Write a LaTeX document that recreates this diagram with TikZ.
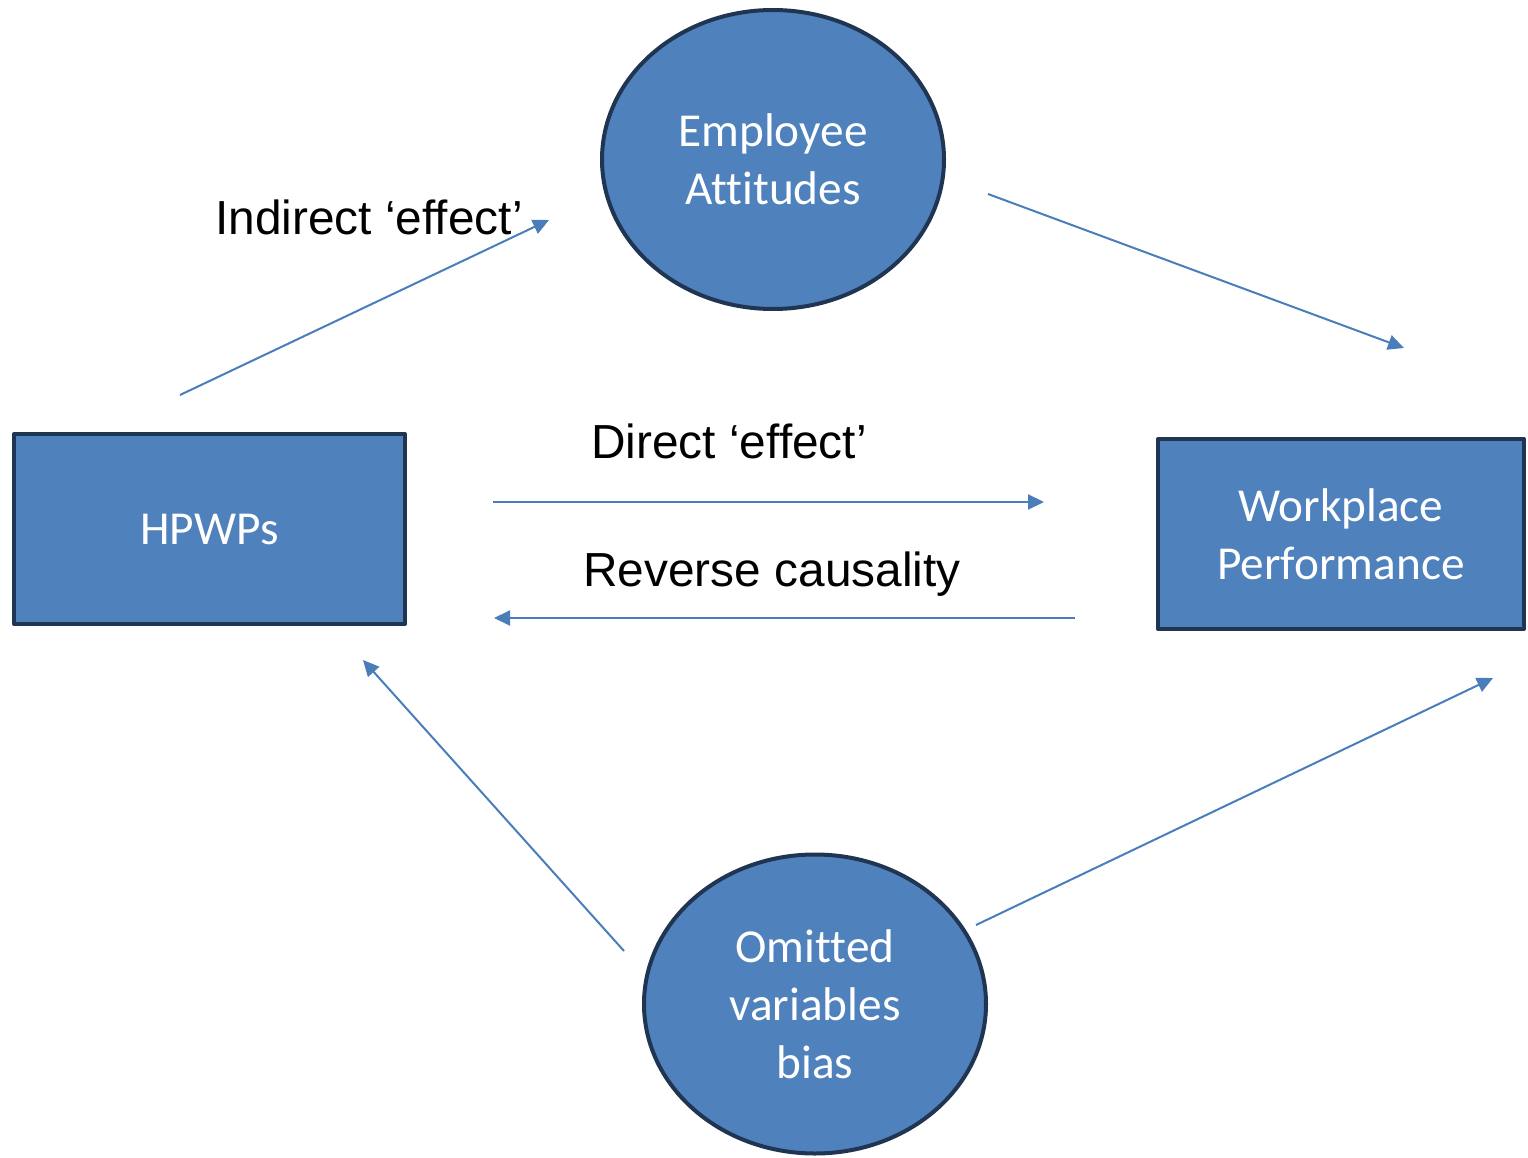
\documentclass[tikz,border=0pt]{standalone}
\usepackage{fontspec}
\setmainfont{Liberation Sans}
\newfontfamily\calibri[Ligatures=NoCommon]{Carlito}
\usetikzlibrary{arrows.meta,shapes.geometric}
\definecolor{boxblue}{HTML}{4F81BD}
\definecolor{boxedge}{HTML}{1F3552}
\definecolor{arrowblue}{HTML}{4A7EBB}
\tikzset{
  every picture/.style={x=1pt, y=-1pt, line join=round},
  factor/.style={draw=boxedge, fill=boxblue, line width=4pt, text=white, align=center,
                 font=\calibri\fontsize{47.3}{58}\selectfont, inner sep=0pt},
  boxnode/.style={factor, rectangle, minimum height=190pt},
  blob/.style={factor, ellipse, minimum width=342pt, minimum height=299pt},
  link/.style={arrowblue, line width=2pt, -{Triangle[length=16pt,width=15pt]}},
  tag/.style={font=\fontsize{47.8}{58}\selectfont, inner sep=0pt},
}

\begin{document}
\begin{tikzpicture}
\useasboundingbox (0,0) rectangle (1528,1158);
% the four factors
\node[boxnode, minimum width=391pt] (hpwp) at (209.5,529) {HPWPs};
\node[boxnode, minimum width=366pt] (perf) at (1341,534) {Workplace\\Performance};
\node[blob] (attit) at (773,159.5) {Employee\\Attitudes};
\node[blob] (omit) at (815,1004) {Omitted\\variables\\bias};
% arrow ends, kept clear of the shapes
\coordinate (hpwp-up) at (180,395);
\coordinate (attit-in) at (549,220);
\coordinate (attit-out) at (988,194);
\coordinate (perf-top) at (1404,348);
\coordinate (direct-a) at (493,502);
\coordinate (direct-b) at (1044,502);
\coordinate (reverse-a) at (1075,618);
\coordinate (reverse-b) at (494,618);
\coordinate (omit-left) at (624,951);
\coordinate (hpwp-low) at (363,660);
\coordinate (omit-right) at (976,925);
\coordinate (perf-low) at (1493,678);
\draw[link] (hpwp-up) -- (attit-in);
\draw[link] (attit-out) -- (perf-top);
\draw[link] (direct-a) -- (direct-b);
\draw[link] (reverse-a) -- (reverse-b);
\draw[link] (omit-left) -- (hpwp-low);
\draw[link] (omit-right) -- (perf-low);
% labels
\node[tag] (indirect) at (369,217) {Indirect ‘effect’};
\node[tag] (direct) at (729,441) {Direct ‘effect’};
\node[tag] (reverse) at (772,574) {Reverse causality};
\end{tikzpicture}
\end{document}
